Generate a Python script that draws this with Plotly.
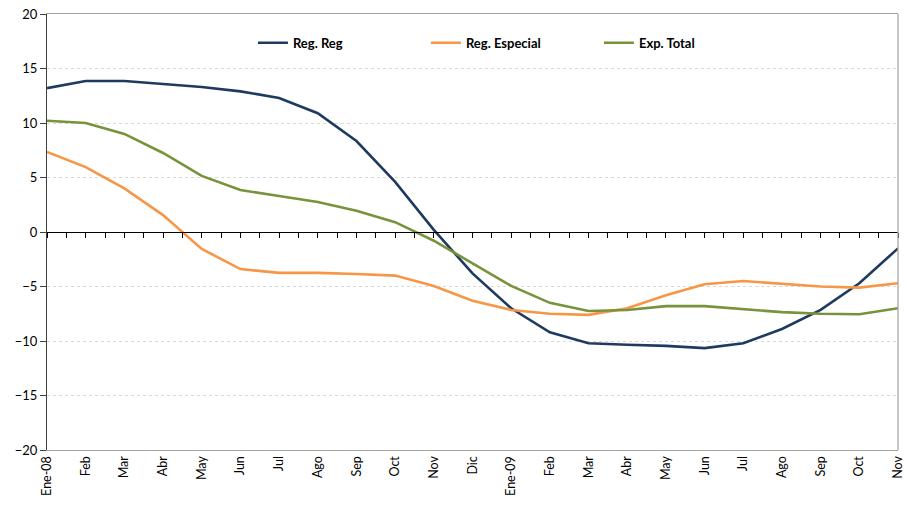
import plotly.graph_objects as go

categories = ["Ene-08", "Feb", "Mar", "Abr", "May", "Jun", "Jul", "Ago", "Sep", "Oct", "Nov", "Dic",
              "Ene-09", "Feb", "Mar", "Abr", "May", "Jun", "Jul", "Ago", "Sep", "Oct", "Nov"]

reg_reg = [13.2, 13.85, 13.85, 13.6, 13.3, 12.9, 12.3, 10.9, 8.35, 4.6, 0.2, -3.8,
           -7.0, -9.2, -10.2, -10.35, -10.45, -10.65, -10.2, -8.9, -7.15, -4.7, -1.5]
reg_especial = [7.35, 5.95, 4.0, 1.55, -1.55, -3.4, -3.75, -3.75, -3.85, -4.0, -4.95, -6.3,
                -7.15, -7.5, -7.6, -7.0, -5.8, -4.8, -4.5, -4.75, -5.0, -5.1, -4.7]
exp_total = [10.2, 10.0, 9.0, 7.25, 5.15, 3.85, 3.3, 2.75, 1.95, 0.9, -0.8, -2.85,
             -4.95, -6.5, -7.25, -7.15, -6.8, -6.8, -7.05, -7.35, -7.5, -7.55, -7.0]

series = [("Reg. Reg", reg_reg, "#1F3A60"),
          ("Reg. Especial", reg_especial, "#F79646"),
          ("Exp. Total", exp_total, "#77933C")]

xs = list(range(len(categories)))
FONT = "Lato, 'Open Sans', sans-serif"

fig = go.Figure()
for name, vals, color in series:
    fig.add_trace(go.Scatter(x=xs, y=vals, name=name, mode="lines",
                             line=dict(color=color, width=2.6)))

# dummy trace for zero-line axis ticks
fig.add_trace(go.Scatter(x=[0, len(xs) - 1], y=[0, 0], xaxis="x2", mode="lines",
                         line=dict(width=0), showlegend=False, hoverinfo="skip"))

fig.update_layout(
    width=907, height=508,
    margin=dict(l=47, r=9, t=14, b=58),
    paper_bgcolor="white", plot_bgcolor="white",
    font=dict(family=FONT, size=13, color="#000000"),
    showlegend=True,
    legend=dict(orientation="h", x=0.242, y=0.934, xanchor="left", yanchor="middle",
                font=dict(family=FONT, size=13, color="#000000", weight="bold"),
                itemwidth=30, entrywidth=128, entrywidthmode="pixels",
                bgcolor="rgba(0,0,0,0)"),
    xaxis=dict(range=[0, len(xs) - 1], tickmode="array", tickvals=xs, ticktext=categories,
               tickangle=-90, showgrid=False, zeroline=False, automargin=False,
               showline=True, linecolor="#A6A6A6", linewidth=1.3, mirror=True,
               ticks="", tickfont=dict(size=12.5, family=FONT)),
    xaxis2=dict(range=[0, len(xs) - 1], overlaying="x", anchor="free", position=0.5,
                side="bottom", tickmode="linear", tick0=0, dtick=0.5, automargin=False,
                ticks="outside", ticklen=5, tickcolor="#000000", tickwidth=1,
                showticklabels=False, showline=True, linecolor="#000000", linewidth=1,
                showgrid=False, zeroline=False),
    yaxis=dict(range=[-20, 20], tickmode="linear", tick0=-20, dtick=5, automargin=False,
               showgrid=True, gridcolor="#D9D9D9", griddash="dot", gridwidth=1,
               zeroline=False, showline=True, linecolor="#404040", linewidth=1.3,
               ticks="outside", ticklen=6, tickcolor="#404040",
               tickfont=dict(size=13, family=FONT)),
    shapes=[dict(type="line", xref="paper", yref="paper", x0=1, x1=1, y0=0, y1=1,
                 line=dict(color="#A6A6A6", width=1.3))],
)

fig.write_html("out.html", config={"displayModeBar": False},
               post_script="document.body.style.margin='0';document.body.style.overflow='hidden';")
